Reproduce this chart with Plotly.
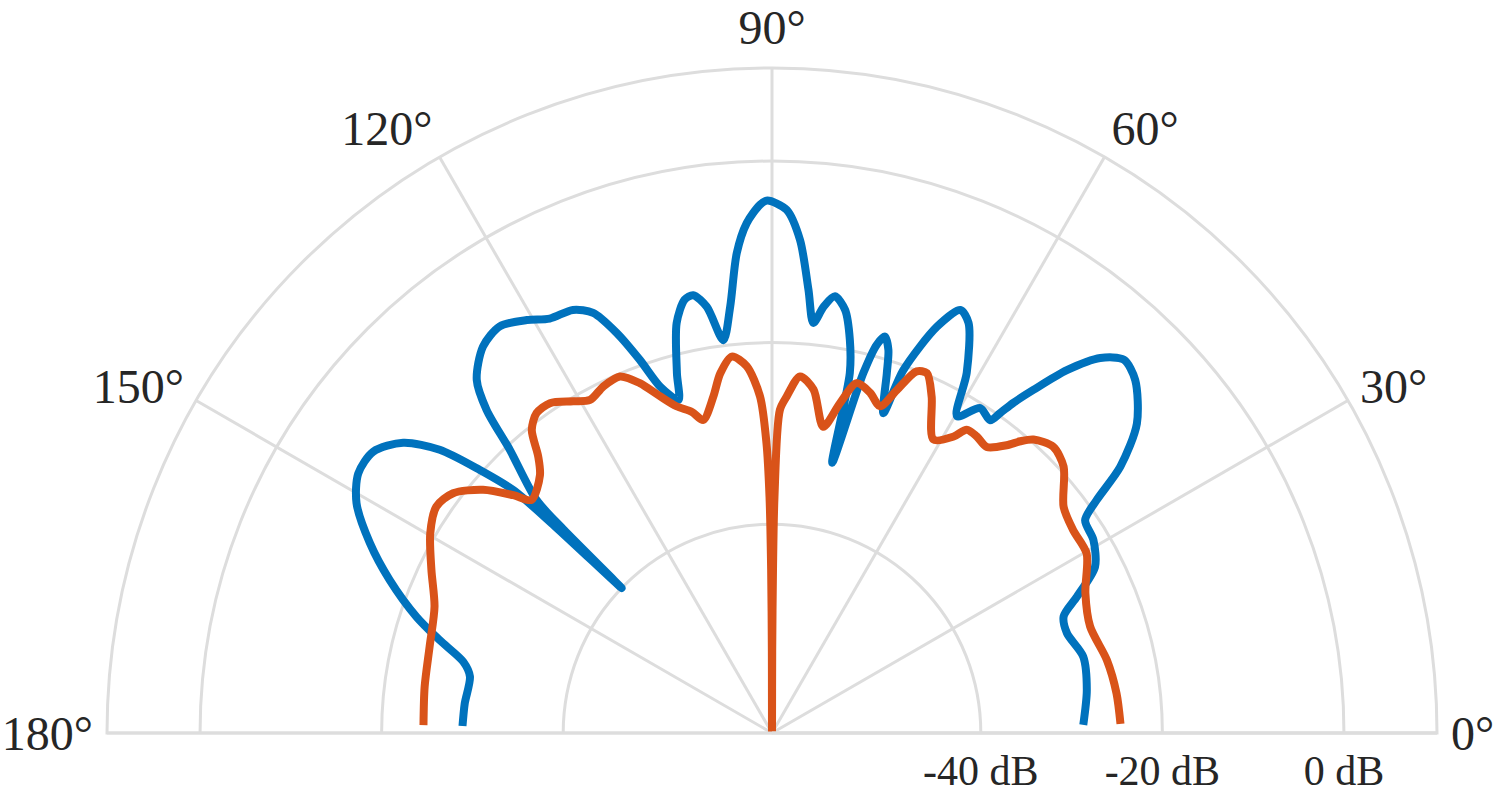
import plotly.graph_objects as go

# ---- data (angle in degrees, level in dB) ----
blue_theta = [178.7, 174.5, 169.4, 167.0, 164.4, 161.9, 158.2, 154.7, 151.05, 147.9,
              144.8, 141.8, 139.55, 138.0, 136.8, 136.4, 136.05, 135.7, 135.3, 132.8,
              131.45, 129.9, 126.8, 123.8, 120.7, 118.2, 115.2, 113.06, 111.2, 109.5,
              107.9, 105.7, 104.8, 103.1, 101.4, 100.2, 98.7, 97.06, 95.6, 94.2,
              92.84, 91.3, 90.5, 88.4, 86.75, 85.3, 84.24, 83.1, 81.8, 80.2,
              78.8, 77.8, 77.45, 75.76, 74.9, 74.1, 73.1, 72.3, 70.8, 70.1,
              67.9, 66.0, 64.4, 61.6, 59.7, 57.35, 55.1, 54.5, 53.85, 52.7,
              50.9, 48.8, 46.7, 44.2, 40.3, 37.4, 35.65, 34.2, 31.0, 27.2,
              24.1, 21.8, 18.7, 13.8, 7.8, 1.5]
blue_db = [-28.9, -29.0, -29.15, -28.1, -25.0, -21.8, -17.65, -14.0, -10.7, -9.2,
           -9.24, -11.3, -14.9, -19.7, -23.9, -30.0, -40.0, -31.0, -26.5, -20.5,
           -15.5, -12.3, -9.85, -9.1, -10.1, -11.2, -11.5, -12.7, -15.75, -19.4,
           -22.9, -24.9, -22.0, -16.65, -14.3, -14.0, -15.5, -19.4, -15.8, -10.0,
           -6.77, -4.8, -4.35, -5.35, -8.6, -14.0, -17.6, -15.7, -14.4, -15.7,
           -18.85, -22.45, -32.5, -22.1, -18.7, -17.6, -18.9, -21.4, -25.7, -20.5,
           -14.7, -12.0, -12.9, -17.9, -22.6, -20.5, -21.0, -19.7, -18.0, -15.5,
           -11.5, -8.1, -6.5, -7.2, -10.3, -14.7, -19.0, -21.3, -21.7, -23.0,
           -26.2, -28.4, -28.7, -27.7, -28.0, -28.7]

orange_theta = [178.7, 172.4, 165.8, 159.45, 154.4, 149.7, 146.0, 143.06, 139.9, 137.4,
                135.9, 132.0, 130.2, 128.4, 126.35, 123.95, 120.95, 118.65, 115.97, 113.1,
                110.7, 108.4, 106.3, 104.0, 102.4, 99.9, 98.2, 96.1, 93.95, 92.04,
                91.1, 90.6, 90.3, 90.1, 90.0, 89.85, 89.65, 89.4, 88.6, 87.5,
                85.5, 83.1, 80.5, 78.35, 76.4, 73.9, 71.7, 70.0, 68.2, 66.7,
                64.6, 61.2, 58.5, 57.3, 55.4, 53.1, 50.8, 49.6, 48.3, 45.5,
                42.4, 37.8, 34.0, 29.7, 24.05, 18.5, 12.3, 6.57, 1.5]
orange_db = [-24.6, -24.4, -24.1, -23.3, -21.4, -19.4, -18.4, -19.05, -21.4, -24.3,
             -26.1, -24.8, -23.1, -20.4, -19.25, -19.2, -20.4, -21.2, -20.55, -20.3,
             -21.8, -23.9, -25.5, -26.55, -27.7, -25.4, -23.0, -21.3, -22.5, -25.9,
             -31.0, -37.0, -45.0, -54.0, -63.0, -54.0, -45.0, -37.0, -27.4, -25.9,
             -23.6, -24.9, -28.8, -25.9, -23.35, -24.0, -25.1, -22.8, -20.1, -19.85,
             -22.0, -26.1, -24.7, -23.3, -23.3, -23.6, -22.1, -20.8, -19.7, -18.8,
             -19.5, -22.35, -23.0, -23.1, -25.2, -26.05, -25.25, -24.8, -24.6]

angle_ticks = [0, 30, 60, 90, 120, 150, 180]
angle_labels = ["0°", "30°", "60°", "90°", "120°", "150°", "180°"]
r_ticks = [-40, -20, 0]
r_labels = ["-40 dB", "-20 dB", "0 dB"]
r_range = [-63.0, 10.25]

BLUE = "#0072BD"
ORANGE = "#D95319"
GRID = "#dddddd"
FONT = "Liberation Serif"

fig = go.Figure()
fig.add_trace(go.Scatterpolar(
    theta=blue_theta, r=blue_db, mode="lines",
    line=dict(color=BLUE, width=8, shape="spline", smoothing=0.8),
    showlegend=False, hoverinfo="skip"))
fig.add_trace(go.Scatterpolar(
    theta=orange_theta, r=orange_db, mode="lines",
    line=dict(color=ORANGE, width=8, shape="spline", smoothing=0.8),
    showlegend=False, hoverinfo="skip"))

W, H = 1494, 794
fig.update_layout(
    width=W, height=H,
    margin=dict(l=0, r=0, t=0, b=0),
    paper_bgcolor="white",
    font=dict(family=FONT, color="#262626"),
    polar=dict(
        domain=dict(x=[107 / W, 1437 / W], y=[(H - 733) / H, (H - 68) / H]),
        sector=[0, 180],
        bgcolor="white",
        angularaxis=dict(
            tickmode="array", tickvals=angle_ticks, ticktext=angle_labels,
            direction="counterclockwise", rotation=0,
            showline=True, linecolor=GRID, linewidth=3,
            showgrid=True, gridcolor=GRID, gridwidth=3,
            ticks="outside", ticklen=3, tickcolor="rgba(0,0,0,0)",
            tickfont=dict(size=48, family=FONT, color="#262626"),
        ),
        radialaxis=dict(
            range=r_range, tickmode="array", tickvals=r_ticks, ticktext=r_labels,
            angle=0, side="clockwise",
            showline=True, linecolor=GRID, linewidth=3,
            showgrid=True, gridcolor=GRID, gridwidth=3,
            ticks="", tickfont=dict(size=42, family=FONT, color="#262626"),
            tickangle=0,
        ),
    ),
)

fig.write_html("out.html")
